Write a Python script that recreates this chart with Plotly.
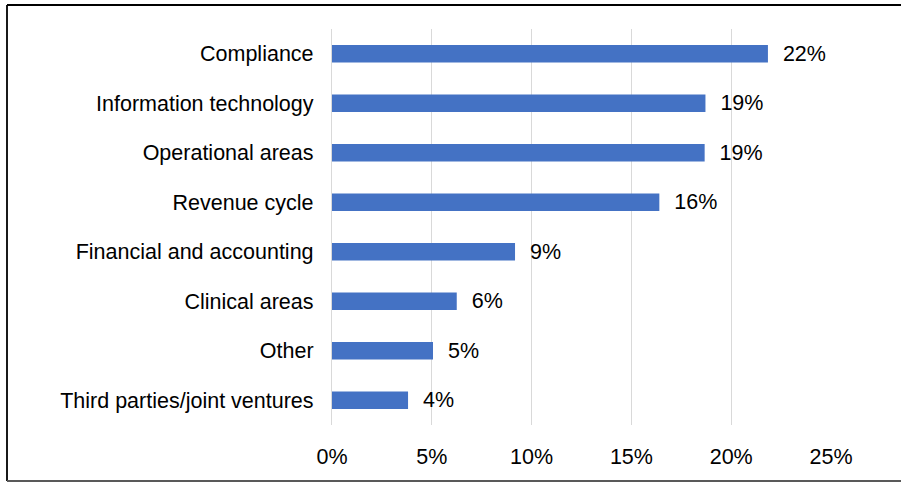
import plotly.graph_objects as go

# Share of responses by area (percent), listed top to bottom
areas = [
    "Compliance",
    "Information technology",
    "Operational areas",
    "Revenue cycle",
    "Financial and accounting",
    "Clinical areas",
    "Other",
    "Third parties/joint ventures",
]
shares = [21.84, 18.71, 18.67, 16.40, 9.17, 6.25, 5.06, 3.81]

x_ticks = [0, 5, 10, 15, 20, 25]
x_tick_labels = ["0%", "5%", "10%", "15%", "20%", "25%"]

W, H = 901, 483
L, R, T, B = 332, 70, 29, 58
plot_w, plot_h = W - L - R, H - T - B


def px_x(x):
    return (x - L) / plot_w


def px_y(y):
    return (H - B - y) / plot_h


font = dict(family="Liberation Sans, Arial, sans-serif", size=21.5, color="#000000")

fig = go.Figure(
    go.Bar(
        x=shares,
        y=areas,
        orientation="h",
        marker=dict(color="#4472C4", line=dict(width=0)),
        texttemplate="  %{x:.0f}%",
        textposition="outside",
        constraintext="none",
        textfont=font,
        cliponaxis=False,
        hoverinfo="skip",
    )
)

# Frame around the chart
frame = dict(type="line", xref="paper", yref="paper", layer="above")
fig.add_shape(**frame, x0=px_x(7), x1=px_x(901), y0=px_y(5), y1=px_y(5),
              line=dict(color="#000000", width=1.8))
fig.add_shape(**frame, x0=px_x(7), x1=px_x(7), y0=px_y(5), y1=px_y(481),
              line=dict(color="#000000", width=1.8))
fig.add_shape(**frame, x0=px_x(7), x1=px_x(901), y0=px_y(481), y1=px_y(481),
              line=dict(color="#595959", width=1.8))

fig.update_layout(
    width=W,
    height=H,
    margin=dict(l=L, r=R, t=T, b=B, autoexpand=False),
    paper_bgcolor="white",
    plot_bgcolor="white",
    font=font,
    bargap=0.643,
    showlegend=False,
    xaxis=dict(
        range=[0, 25],
        tickvals=x_ticks,
        ticktext=x_tick_labels,
        showgrid=True,
        gridcolor="#D9D9D9",
        gridwidth=1.3,
        zeroline=False,
        showline=False,
        ticks="",
        ticklabelstandoff=16,
        tickfont=font,
        fixedrange=True,
    ),
    yaxis=dict(
        autorange="reversed",
        showgrid=False,
        zeroline=False,
        showline=True,
        linecolor="#D9D9D9",
        linewidth=1.3,
        ticks="",
        ticklabelstandoff=13,
        tickfont=font,
        fixedrange=True,
    ),
)

fig.write_html("out.html")
